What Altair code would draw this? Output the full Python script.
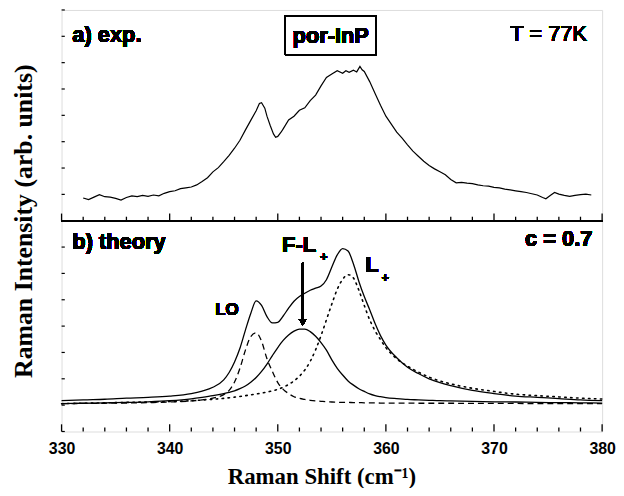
import altair as alt
import pandas as pd

# ---------------- data ----------------
# a) experimental spectrum (Raman shift, intensity in panel units)
exp_x = [332.0, 332.5, 333.0, 333.5, 334.0, 334.5, 335.0, 335.5, 336.0, 336.5,
         337.0, 337.5, 338.0, 338.5, 339.0, 339.5, 340.0, 340.5, 341.0, 341.5,
         342.0, 342.5, 343.0, 343.5, 344.0, 344.5, 345.0, 345.5, 346.0, 346.5,
         347.0, 347.5, 348.0, 348.3, 348.5, 348.8, 349.0, 349.3, 349.6, 349.8,
         350.0, 350.3, 350.5, 351.0, 351.5, 352.0, 352.5, 353.0, 353.5, 354.0,
         354.5, 355.0, 355.5, 356.0, 356.3, 356.6, 357.0, 357.3, 357.6, 357.8,
         358.0, 358.5, 359.0, 359.5, 360.0, 360.5, 361.0, 361.5, 362.0, 362.5,
         363.0, 363.5, 364.0, 364.5, 365.0, 365.5, 366.0, 366.5, 367.0, 367.5,
         368.0, 368.5, 369.0, 369.5, 370.0, 370.5, 371.0, 371.5, 372.0, 372.5,
         373.0, 373.5, 374.0, 374.5, 374.8, 375.2, 375.6, 376.0, 376.5, 377.0,
         377.5, 378.0, 378.5, 379.0]
exp_y = [0.108, 0.100, 0.112, 0.124, 0.114, 0.112, 0.106, 0.098, 0.110, 0.118,
         0.114, 0.120, 0.116, 0.122, 0.118, 0.130, 0.138, 0.142, 0.152, 0.156,
         0.160, 0.170, 0.186, 0.204, 0.232, 0.252, 0.280, 0.310, 0.344, 0.382,
         0.430, 0.476, 0.522, 0.556, 0.560, 0.534, 0.496, 0.452, 0.412, 0.396,
         0.400, 0.420, 0.436, 0.478, 0.496, 0.524, 0.536, 0.570, 0.596, 0.640,
         0.680, 0.696, 0.712, 0.700, 0.712, 0.704, 0.714, 0.706, 0.732, 0.716,
         0.708, 0.660, 0.604, 0.548, 0.496, 0.458, 0.420, 0.392, 0.360, 0.330,
         0.306, 0.282, 0.262, 0.246, 0.232, 0.218, 0.196, 0.180, 0.182, 0.178,
         0.176, 0.170, 0.166, 0.164, 0.158, 0.156, 0.150, 0.146, 0.142, 0.138,
         0.134, 0.128, 0.122, 0.110, 0.104, 0.120, 0.134, 0.126, 0.120, 0.116,
         0.120, 0.124, 0.126, 0.122]

# b) theory curves on a common grid
th_x = [330, 332, 334, 336, 338, 340, 342, 343, 344, 345, 345.5, 346, 346.5, 347,
        347.5, 348, 348.5, 349, 349.5, 350, 350.5, 351, 351.5, 352, 352.5, 353,
        353.5, 354, 354.5, 355, 355.5, 356, 356.5, 357, 357.5, 358, 358.5, 359,
        359.5, 360, 361, 362, 363, 364, 365, 366, 368, 370, 372, 374, 376, 378, 380]
total_y = [0.146, 0.150, 0.153, 0.158, 0.162, 0.168, 0.180, 0.192, 0.210, 0.245,
           0.280, 0.330, 0.395, 0.480, 0.560, 0.620, 0.598, 0.545, 0.515, 0.518,
           0.548, 0.585, 0.618, 0.640, 0.656, 0.670, 0.680, 0.690, 0.720, 0.780,
           0.838, 0.868, 0.856, 0.795, 0.712, 0.640, 0.578, 0.512, 0.455, 0.410,
           0.350, 0.305, 0.275, 0.250, 0.232, 0.218, 0.195, 0.180, 0.168, 0.162,
           0.156, 0.150, 0.146]
lo_y = [0.132, 0.133, 0.134, 0.135, 0.137, 0.140, 0.145, 0.150, 0.158, 0.175,
        0.195, 0.235, 0.300, 0.385, 0.450, 0.468, 0.428, 0.345, 0.285, 0.232,
        0.200, 0.180, 0.165, 0.157, 0.152, 0.148, 0.145, 0.143, 0.141, 0.140,
        0.139, 0.138, 0.138, 0.137, 0.137, 0.136, 0.136, 0.136, 0.135, 0.135,
        0.135, 0.135, 0.134, 0.134, 0.134, 0.134, 0.133, 0.133, 0.133, 0.132,
        0.132, 0.132, 0.132]
fl_y = [0.132, 0.134, 0.136, 0.138, 0.141, 0.146, 0.155, 0.162, 0.170, 0.180,
        0.186, 0.193, 0.203, 0.216, 0.234, 0.256, 0.285, 0.320, 0.360, 0.398,
        0.432, 0.458, 0.476, 0.486, 0.486, 0.474, 0.452, 0.422, 0.386, 0.340,
        0.300, 0.268, 0.240, 0.220, 0.203, 0.190, 0.178, 0.170, 0.165, 0.161,
        0.156, 0.152, 0.150, 0.148, 0.146, 0.145, 0.143, 0.141, 0.140, 0.138,
        0.137, 0.136, 0.135]
lp_y = [0.132, 0.134, 0.136, 0.138, 0.140, 0.142, 0.146, 0.149, 0.153, 0.157,
        0.160, 0.163, 0.166, 0.170, 0.174, 0.178, 0.182, 0.187, 0.193, 0.200,
        0.210, 0.223, 0.240, 0.262, 0.292, 0.333, 0.388, 0.455, 0.530, 0.605,
        0.675, 0.722, 0.744, 0.728, 0.670, 0.598, 0.530, 0.478, 0.436, 0.398,
        0.345, 0.310, 0.282, 0.258, 0.240, 0.226, 0.205, 0.190, 0.177, 0.170,
        0.164, 0.158, 0.154]

x_labels = [330, 340, 350, 360, 370, 380]
x_ticks = list(range(330, 381, 2))
y_ticks = [i / 8 for i in range(17)]

# ---------------- tables ----------------
exp_df = pd.DataFrame({"x": exp_x, "y": [1 + v for v in exp_y]})
theory_df = pd.concat([
    pd.DataFrame({"x": th_x, "y": total_y, "c": "total"}),
    pd.DataFrame({"x": th_x, "y": fl_y, "c": "FL"}),
])
lo_df = pd.DataFrame({"x": th_x, "y": lo_y})
lp_df = pd.DataFrame({"x": th_x, "y": lp_y})

MAJ, MIN = 0.034, 0.019
xt_rows = []
for t in x_ticks:
    L = MAJ if t % 10 == 0 else MIN
    xt_rows.append({"x": t, "y": 0.0, "y2": L})
    xt_rows.append({"x": t, "y": 1.0, "y2": 1.0 + L})
xtick_df = pd.DataFrame(xt_rows)
ytick_df = pd.DataFrame({"y": y_ticks, "x": 330.0, "x2": 330.3})

# ---------------- encodings ----------------
xs = alt.Scale(domain=[330, 380], nice=False, zero=False)
ys = alt.Scale(domain=[0, 2], nice=False, zero=False)
x_axis = alt.Axis(values=x_labels, ticks=False, domain=False, grid=False,
                  labelFont="Liberation Sans", labelFontWeight="bold",
                  labelFontSize=16, labelColor="black", labelPadding=9,
                  labelFlush=False,
                  title="Raman Shift (cm\u207b\u00b9)", titleFont="Liberation Serif",
                  titleFontSize=23, titleFontWeight="bold", titleColor="black",
                  titlePadding=9, titleX=262)
y_axis = alt.Axis(values=y_ticks, ticks=False, labels=False, domain=False, grid=False,
                  title="Raman Intensity (arb. units)", titleFont="Liberation Serif",
                  titleFontSize=26, titleFontWeight="bold", titleColor="black",
                  titlePadding=25)
X = alt.X("x:Q", scale=xs, axis=x_axis)
Y = alt.Y("y:Q", scale=ys, axis=y_axis)

exp_line = alt.Chart(exp_df).mark_line(color="black", strokeWidth=1.2).encode(x=X, y=Y)
solid = alt.Chart(theory_df).mark_line(color="black", strokeWidth=1.3, interpolate="monotone").encode(
    x=X, y=Y, detail="c:N")
lo_line = alt.Chart(lo_df).mark_line(color="black", strokeWidth=1.3, strokeDash=[6, 4],
                                     interpolate="monotone").encode(x=X, y=Y)
lp_line = alt.Chart(lp_df).mark_line(color="black", strokeWidth=1.6, strokeDash=[1.5, 4.5],
                                     strokeCap="round", interpolate="monotone").encode(x=X, y=Y)

divider = alt.Chart(exp_df).mark_rule(color="black", strokeWidth=1.5).encode(y=alt.datum(1.0))
xticks = alt.Chart(xtick_df).mark_rule(color="black", strokeWidth=1.3).encode(
    x=alt.X("x:Q", scale=xs), y=alt.Y("y:Q", scale=ys), y2="y2:Q")
yticks = alt.Chart(ytick_df).mark_rule(color="black", strokeWidth=1.2).encode(
    x=alt.X("x:Q", scale=xs), x2="x2:Q", y=alt.Y("y:Q", scale=ys))

def txt(s, x, y, size=22, weight="bold", align="left"):
    return alt.Chart(exp_df).mark_text(text=s, font="Liberation Sans", fontSize=size,
                                       fontWeight=weight, align=align, baseline="middle",
                                       color="black").encode(x=alt.datum(x), y=alt.datum(y))

box = alt.Chart(exp_df).mark_rect(filled=False, stroke="black", strokeWidth=1).encode(
    x=alt.datum(350.7), x2=alt.datum(359.1), y=alt.datum(1.972), y2=alt.datum(1.788))

arrow = alt.Chart(exp_df).mark_rule(color="black", strokeWidth=1.5).encode(
    x=alt.datum(352.3), y=alt.datum(0.80), y2=alt.datum(0.53))
arrow_head = alt.Chart(exp_df).mark_point(shape="triangle-down", filled=True, color="black",
                                          size=60, opacity=1).encode(
    x=alt.datum(352.3), y=alt.datum(0.518))

texts = [
    txt("a) exp.", 331.0, 1.882),
    txt("por-InP", 354.9, 1.876, align="center"),
    txt("T = 77K", 378.6, 1.886, weight="normal", align="right"),
    txt("b) theory", 331.0, 0.899),
    txt("c = 0.7", 379.1, 0.913, align="right"),
    txt("LO", 345.3, 0.576, size=17, align="center"),
    txt("F-L", 350.4, 0.885),
    txt("+", 353.9, 0.828, size=13),
    txt("L", 358.1, 0.791),
    txt("+", 359.6, 0.729, size=13),
]

chart = alt.layer(
    exp_line, solid, lo_line, lp_line, divider, xticks, yticks, box, arrow, arrow_head, *texts
).properties(
    width=545, height=425,
    autosize=alt.AutoSizeParams(type="none"),
    padding={"left": 54, "top": 0, "right": 14, "bottom": 55},
).configure_view(stroke="black", strokeWidth=1.6).configure(background="white")

chart.save("out.html", embed_options={"renderer": "svg", "actions": False})
